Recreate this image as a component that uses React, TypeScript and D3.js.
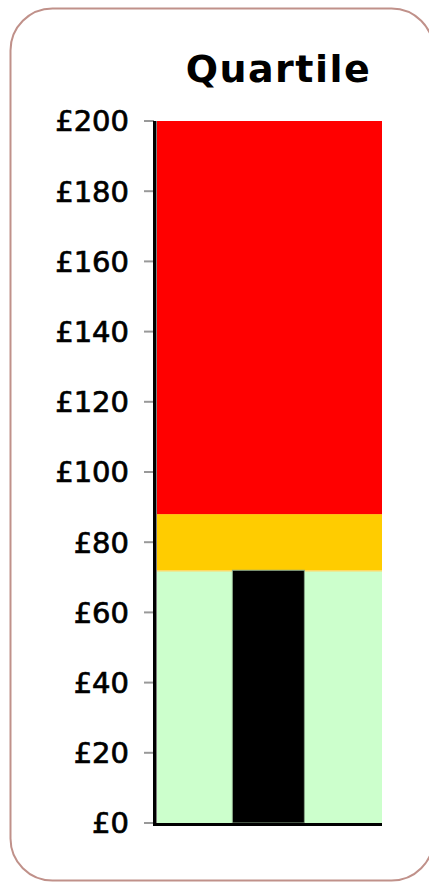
import React from "react";
import * as d3 from "d3";

const title = "Quartile";
const bandNames = ["Lower", "Middle", "Upper"];
const bandTops = [72, 88, 200];
const bandColors = ["#ccffcc", "#ffcc00", "#ff0000"];
const barValue = 72;
const tickValues = [0, 20, 40, 60, 80, 100, 120, 140, 160, 180, 200];

export default function App() {
  const W = 429, H = 883;
  const y = d3.scaleLinear().domain([0, 200]).range([823, 121]);
  const x = d3.scaleLinear().domain([0, 1]).range([157, 382]);
  const bands = bandTops.map((t, i) => ({ name: bandNames[i], lo: i === 0 ? 0 : bandTops[i - 1], hi: t, color: bandColors[i] }));
  const barX0 = x(0.335), barX1 = x(0.655);
  return (
    <svg width={W} height={H} style={{ position: "absolute", left: 0, top: 0, background: "#fff" }}>
      <rect x={10.5} y={8.5} width={423} height={872} rx={42} ry={42} fill="#fff" stroke="#c0918a" strokeWidth={2} />
      <text x={278.5} y={82} textAnchor="middle" fontFamily="DejaVu Sans, Verdana, sans-serif" fontWeight="bold" fontSize={38} letterSpacing={1.5} fill="#000">{title}</text>
      {bands.map((b) => (
        <rect key={b.name} x={x(0)} y={y(b.hi)} width={x(1) - x(0)} height={y(b.lo) - y(b.hi)} fill={b.color} />
      ))}
      <line x1={x(0)} x2={x(1)} y1={y(bandTops[0]) + 0.5} y2={y(bandTops[0]) + 0.5} stroke="#ffd966" strokeWidth={1.5} />
      <rect x={barX0} y={y(barValue)} width={barX1 - barX0} height={y(0) - y(barValue)} fill="#000" stroke="#8aa888" strokeWidth={1} />
      {tickValues.map((t) => (
        <g key={t}>
          <line x1={144} x2={154} y1={y(t)} y2={y(t)} stroke="#999" strokeWidth={2} />
          <text x={129} y={y(t)} dy="0.36em" textAnchor="end" fontFamily="DejaVu Sans, Verdana, sans-serif" fontSize={29} fill="#000" stroke="#000" strokeWidth={0.7}>{"£" + t}</text>
        </g>
      ))}
      <rect x={153} y={y(200)} width={3.5} height={y(0) - y(200) + 3} fill="#000" />
      <rect x={153} y={y(0)} width={229} height={3} fill="#000" />
    </svg>
  );
}
